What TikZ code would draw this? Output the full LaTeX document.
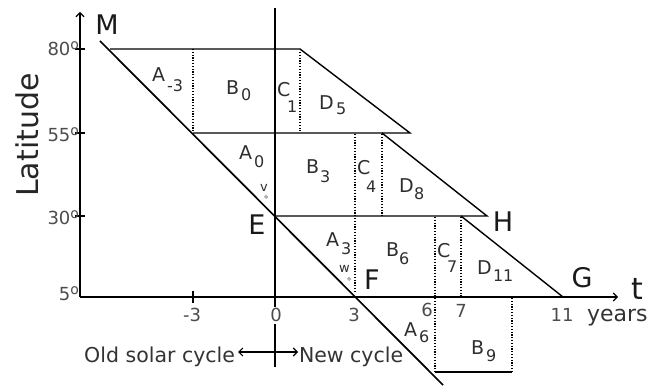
\documentclass[tikz,border=0pt]{standalone}
\usepackage{fontspec}
\setmainfont{DejaVu Sans}
\usetikzlibrary{arrows.meta}
\newcommand{\degsym}{\raisebox{6pt}{\fontsize{14}{14}\selectfont o}}
\begin{document}
\begin{tikzpicture}[x=1pt,y=-1pt,
  every node/.style={inner sep=0pt, outer sep=0pt, text=black!82},
  bigtxt/.style={font=\fontsize{27}{27}\selectfont, text=black!90},
  lab/.style={font=\fontsize{19}{19}\selectfont},
  subtxt/.style={font=\fontsize{16}{16}\selectfont},
  smalltxt/.style={font=\fontsize{13}{13}\selectfont},
  ticklab/.style={font=\fontsize{18}{18}\selectfont, text=black!70},
  captxt/.style={font=\fontsize{20.5}{20.5}\selectfont, text=black!80},
  solidline/.style={line width=1.4pt},
  dotline/.style={line width=1.3pt, dash pattern=on 1.3pt off 1.5pt},
  axarrow/.style={-{Straight Barb[length=4pt,width=8pt]}, line width=1.1pt},
  degc/.style={draw=black!60, line width=0.5pt}
]
\useasboundingbox (0,0) rectangle (651,387);

% key points
\coordinate (M) at (100,41);
\coordinate (Lend) at (443,385);
\coordinate (T80a) at (110,49);
\coordinate (T80b) at (300,49);
\coordinate (T55e) at (410,133);
\coordinate (T55a) at (193,133);
\coordinate (T55s) at (382,133);
\coordinate (E) at (275,216);
\coordinate (H) at (487,216);
\coordinate (T30s) at (461,216);
\coordinate (G) at (563,297);
\coordinate (F) at (355,297);
\coordinate (O) at (80,297);
\coordinate (Ytop) at (80,12);
\coordinate (Xend) at (618,297);
\coordinate (Vtop) at (275,8);
\coordinate (Vbot) at (275,367);
\coordinate (Ac) at (275,352);
\coordinate (Al) at (238,352);
\coordinate (Ar) at (298,352);

% axes
\draw[axarrow] (O) -- (Ytop);
\draw[axarrow] (O) -- (Xend);
\foreach \yy in {49,133,216} \draw[line width=1.1pt] (75,\yy) -- (85,\yy);
\draw[line width=1.1pt] (193,291) -- (193,303);
\draw[line width=1.1pt] (Vtop) -- (Vbot);
\draw[axarrow] (Ac) -- (Al);
\draw[axarrow] (Ac) -- (Ar);

% main butterfly line
\draw[line width=1.7pt] (M) -- (Lend);

% horizontal bands and diagonals
\draw[solidline] (T80a) -- (T80b) -- (T55e) -- (T55a);
\draw[solidline] (T55s) -- (H) -- (E);
\draw[solidline] (T30s) -- (G);
\draw[solidline] (435,372) -- (512,372);

% dotted dividers
\draw[dotline] (193,49) -- (193,133);
\draw[dotline] (300,52) -- (300,131);
\draw[dotline] (355,134) -- (355,292);
\draw[dotline] (382,134) -- (382,216);
\draw[dotline] (435,217) -- (435,372);
\draw[dotline] (461,217) -- (461,297);
\draw[dotline] (512,298) -- (512,372);

% axis labels
\node[rotate=90, font=\fontsize{30}{30}\selectfont, text=black!85] (lat) at (27,135) {Latitude};
\node[ticklab, anchor=base east] (l80) at (79,56) {80\degsym};
\node[ticklab, anchor=base east] (l55) at (79,142) {55\degsym};
\node[ticklab, anchor=base east] (l30) at (79,225) {30\degsym};
\node[ticklab, anchor=base east] (l5) at (79,301) {5\degsym};
\node[ticklab, anchor=base] (xm3) at (192,322) {-3};
\node[ticklab, anchor=base, fill=white, inner sep=1.5pt] (x0) at (276,322) {0};
\node[ticklab, anchor=base] (x3) at (354,322) {3};
\node[ticklab, anchor=base] (x6) at (427,317) {6};
\node[ticklab, anchor=base] (x7) at (461,318) {7};
\node[ticklab, anchor=base] (x11) at (562,322) {11};
\node[captxt, anchor=base west, font=\fontsize{22}{22}\selectfont] (yrs) at (587,322) {years};
\node[font=\fontsize{30}{30}\selectfont, text=black!90, anchor=base] (tl) at (637,300) {t};

% point letters
\node[bigtxt, anchor=base] (lM) at (107,35) {M};
\node[bigtxt, anchor=base] (lE) at (257,235) {E};
\node[bigtxt, anchor=base] (lF) at (372,290) {F};
\node[bigtxt, anchor=base] (lH) at (503,232) {H};
\node[bigtxt, anchor=base] (lG) at (582,288) {G};

% cycle captions
\node[captxt, anchor=base east] (old) at (235,363) {Old solar cycle};
\node[captxt, anchor=base west] (new) at (299,363) {New cycle};

% region labels
\node[lab, anchor=base west] (a1) at (152,82) {A};
\node[subtxt, anchor=base west] (a1s) at (167,92) {-3};
\node[lab, anchor=base west] (b0) at (226,95) {B};
\node[subtxt, anchor=base west] (b0s) at (241,101) {0};
\node[lab, anchor=base west] (c1) at (277,97) {C};
\node[subtxt, anchor=base west] (c1s) at (287,113) {1};
\node[lab, anchor=base west] (d5) at (319,110) {D};
\node[subtxt, anchor=base west] (d5s) at (336,115) {5};

\node[lab, anchor=base west] (a0) at (239,160) {A};
\node[subtxt, anchor=base west] (a0s) at (254,168) {0};
\node[smalltxt, anchor=base west] (v) at (260,192) {v};
\draw[degc] (266,197) circle[radius=1.4pt];
\node[lab, anchor=base west] (b3) at (306,174) {B};
\node[subtxt, anchor=base west] (b3s) at (320,183) {3};
\node[lab, anchor=base west] (c4) at (357,175) {C};
\node[subtxt, anchor=base west] (c4s) at (366,193) {4};
\node[lab, anchor=base west] (d8) at (399,193) {D};
\node[subtxt, anchor=base west] (d8s) at (414,200) {8};

\node[lab, anchor=base west] (a3) at (326,247) {A};
\node[subtxt, anchor=base west] (a3s) at (341,255) {3};
\node[smalltxt, anchor=base west] (w) at (339,273) {w};
\draw[degc] (349,279) circle[radius=1.4pt];
\node[lab, anchor=base west] (b6) at (386,257) {B};
\node[subtxt, anchor=base west] (b6s) at (399,265) {6};
\node[lab, anchor=base west] (c7) at (437,258) {C};
\node[subtxt, anchor=base west] (c7s) at (447,273) {7};
\node[lab, anchor=base west] (d11) at (477,275) {D};
\node[subtxt, anchor=base west] (d11s) at (493,282) {11};

\node[lab, anchor=base west] (a6) at (404,337) {A};
\node[subtxt, anchor=base west] (a6s) at (419,343) {6};
\node[lab, anchor=base west] (b9) at (471,355) {B};
\node[subtxt, anchor=base west] (b9s) at (486,362) {9};
\end{tikzpicture}
\end{document}
